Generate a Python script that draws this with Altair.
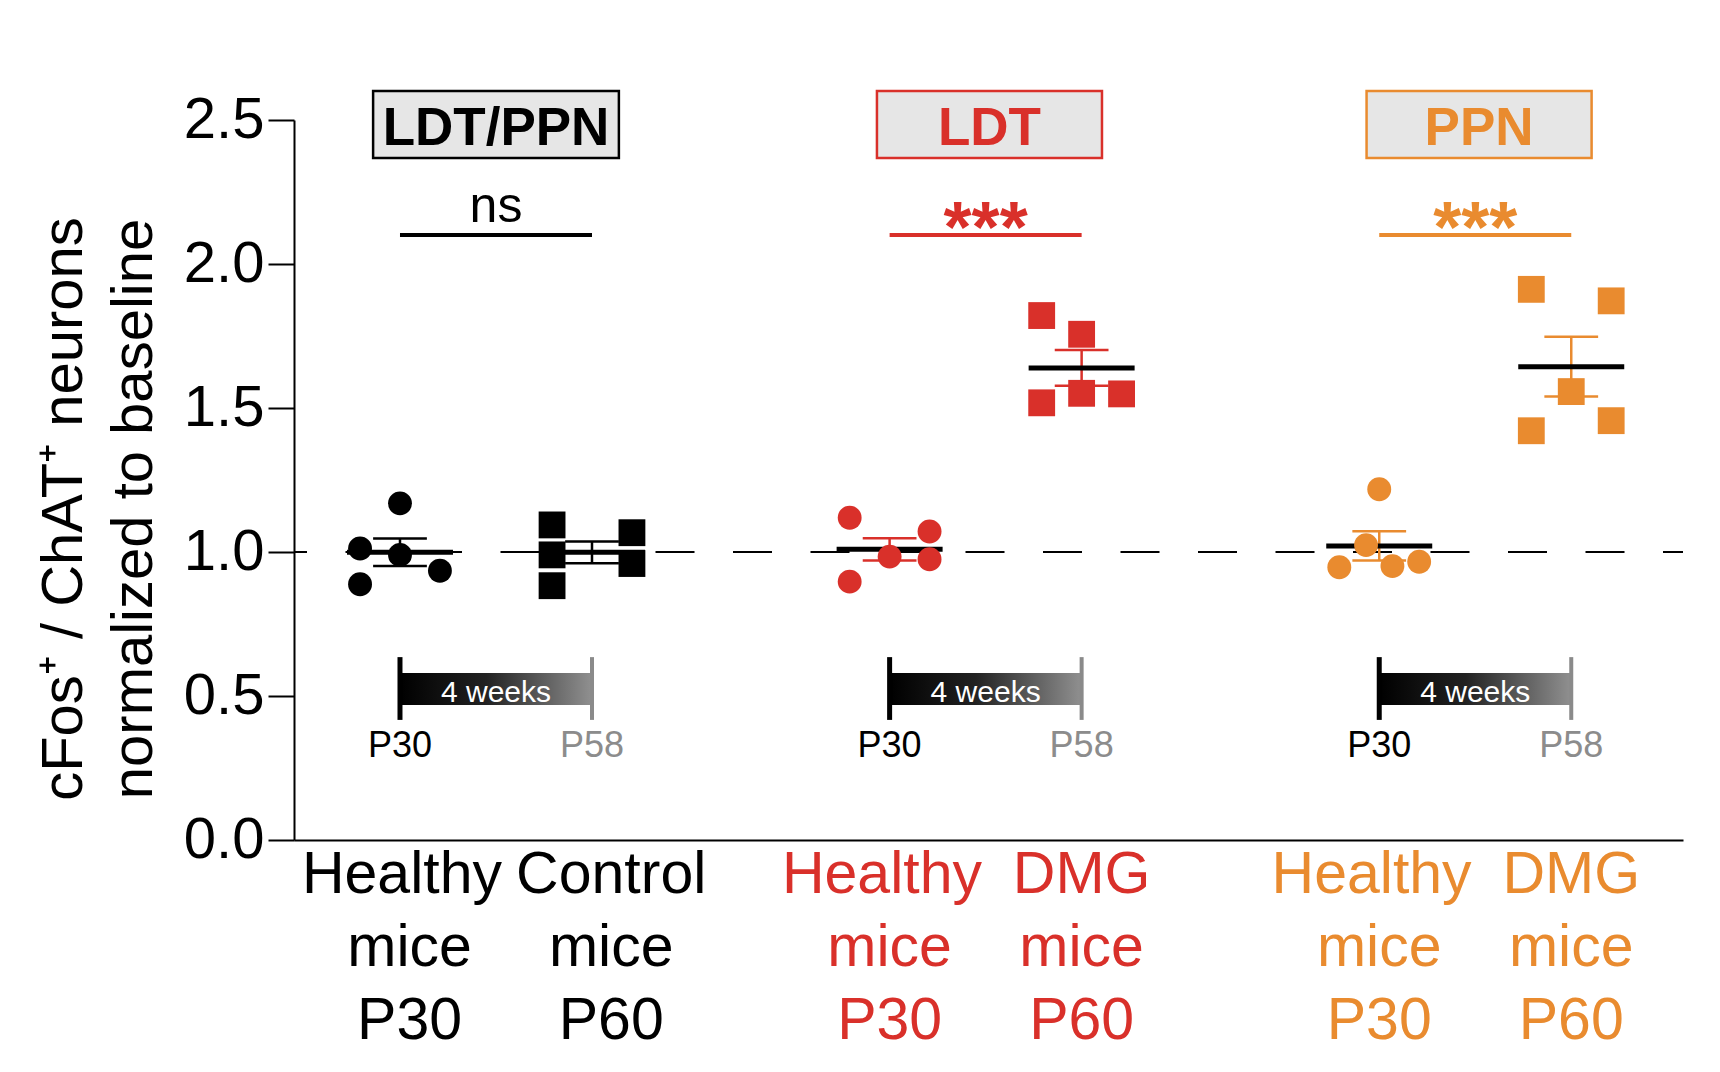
import altair as alt
import pandas as pd

FONT = "Liberation Sans"
BLACK = "#000000"
RED = "#d9302a"
ORANGE = "#e98b2f"
GRAY = "#8c8c8c"

# ---------------- data ----------------
group_keys = ["healthy_all", "control_p60", "healthy_ldt", "dmg_ldt", "healthy_ppn", "dmg_ppn"]
group_pos = [1.0, 2.0, 3.55, 4.55, 6.1, 7.1]
group_shape = ["circle", "square", "circle", "square", "circle", "square"]
group_color = [BLACK, BLACK, RED, RED, ORANGE, ORANGE]
label_top = ["Healthy", "Control", "Healthy", "DMG", "Healthy", "DMG"]
label_mid = ["mice", "mice", "mice", "mice", "mice", "mice"]
label_bot = ["P30", "P60", "P30", "P60", "P30", "P60"]

vals_healthy_all = [1.169, 1.012, 0.990, 0.935, 0.888]
lane_healthy_all = [0, -1, 0, 1, -1]
vals_control_p60 = [1.094, 0.990, 0.883, 1.067, 0.960]
lane_control_p60 = [-1, -1, -1, 1, 1]
vals_healthy_ldt = [1.119, 1.071, 0.984, 0.975, 0.897]
lane_healthy_ldt = [-1, 1, 0, 1, -1]
vals_dmg_ldt = [1.821, 1.756, 1.551, 1.549, 1.518]
lane_dmg_ldt = [-1, 0, 0, 1, -1]
vals_healthy_ppn = [1.218, 1.024, 0.947, 0.951, 0.966]
lane_healthy_ppn = [0, -0.33, -1, 0.33, 1]
vals_dmg_ppn = [1.912, 1.872, 1.557, 1.456, 1.421]
lane_dmg_ppn = [-1, 1, 0, 1, -1]

all_vals = [vals_healthy_all, vals_control_p60, vals_healthy_ldt, vals_dmg_ldt, vals_healthy_ppn, vals_dmg_ppn]
all_lanes = [lane_healthy_all, lane_control_p60, lane_healthy_ldt, lane_dmg_ldt, lane_healthy_ppn, lane_dmg_ppn]

pair_titles = ["LDT/PPN", "LDT", "PPN"]
pair_colors = [BLACK, RED, ORANGE]
pair_sig = ["ns", "***", "***"]
timeline_text = ["4 weeks", "4 weeks", "4 weeks"]
timeline_start = ["P30", "P30", "P30"]
timeline_end = ["P58", "P58", "P58"]
baseline_value = [1.0]

y_title_1 = "cFos\u207a / ChAT\u207a neurons"
y_title_2 = "normalized to baseline"

# ---------------- tables ----------------
rows = []
for k, p, s, c, vs, ls in zip(group_keys, group_pos, group_shape, group_color, all_vals, all_lanes):
    for v, l in zip(vs, ls):
        rows.append({"key": k, "pos": p, "shape": s, "color": c, "value": v, "lane": l})
points_df = pd.DataFrame(rows)

label_rows = []
for k, p, c, a, b, d in zip(group_keys, group_pos, group_color, label_top, label_mid, label_bot):
    for i, t in enumerate([a, b, d]):
        label_rows.append({"key": k, "pos": p, "color": c, "line": i, "text": t})
labels_df = pd.DataFrame(label_rows)

pairs_df = pd.DataFrame({
    "title": pair_titles, "color": pair_colors, "sig": pair_sig,
    "left": group_pos[0::2], "right": group_pos[1::2],
    "tl": timeline_text, "ts": timeline_start, "te": timeline_end,
})
pairs_df["mid"] = (pairs_df["left"] + pairs_df["right"]) / 2

# ---------------- scales / axes ----------------
WIDTH, HEIGHT = 1389, 720
x_scale = alt.Scale(domain=[0.448, 7.682], nice=False, zero=False)
y_scale = alt.Scale(domain=[0, 2.5], nice=False, zero=False)
x_axis = alt.Axis(labels=False, ticks=False, title=None, grid=False,
                  domainColor="black", domainWidth=2)
y_axis = alt.Axis(values=[0, 0.5, 1, 1.5, 2, 2.5], format=".1f", title=None, grid=False,
                  labelFont=FONT, labelFontSize=58, labelColor="black", labelPadding=4,
                  tickSize=26, tickWidth=2, tickColor="black",
                  domainColor="black", domainWidth=2)


def X(f):
    return alt.X(f, type="quantitative", scale=x_scale, axis=x_axis)


def Y(f):
    return alt.Y(f, type="quantitative", scale=y_scale, axis=y_axis)


no_color = dict(scale=None)

# ---------------- layers ----------------
ref = alt.Chart(pd.DataFrame({"ref": baseline_value})).mark_rule(
    color="black", strokeWidth=2, strokeDash=[39, 38.5], strokeDashOffset=26
).encode(y=Y("ref"), x=alt.value(0), x2=alt.value(WIDTH))

pts = alt.Chart(points_df).transform_calculate(x="datum.pos + 0.208 * datum.lane")

circles = pts.transform_filter("datum.shape == 'circle'").mark_point(
    shape="circle", filled=True, size=570, opacity=1, strokeWidth=0
).encode(x=X("x"), y=Y("value"), color=alt.Color("color:N", **no_color))

squares = pts.transform_filter("datum.shape == 'square'").mark_point(
    shape="square", filled=True, size=720, opacity=1, strokeWidth=0
).encode(x=X("x"), y=Y("value"), color=alt.Color("color:N", **no_color))

stats = alt.Chart(points_df).transform_aggregate(
    m="mean(value)", s="stderr(value)", groupby=["key", "pos", "color"]
).transform_calculate(
    lo="datum.m - datum.s", hi="datum.m + datum.s",
    cl="datum.pos - 0.14", cr="datum.pos + 0.14",
    ml="datum.pos - 0.276", mr="datum.pos + 0.276",
)

err_v = stats.mark_rule(strokeWidth=2.5).encode(
    x=X("pos"), y=Y("lo"), y2=alt.Y2("hi"), color=alt.Color("color:N", **no_color))
cap_lo = stats.mark_rule(strokeWidth=2.5).encode(
    x=X("cl"), x2=alt.X2("cr"), y=Y("lo"), color=alt.Color("color:N", **no_color))
cap_hi = stats.mark_rule(strokeWidth=2.5).encode(
    x=X("cl"), x2=alt.X2("cr"), y=Y("hi"), color=alt.Color("color:N", **no_color))
mean_line = stats.mark_rule(strokeWidth=5, color="black").encode(
    x=X("ml"), x2=alt.X2("mr"), y=Y("m"))

pairs = alt.Chart(pairs_df).transform_calculate(
    sig_y="2.101", ns_y="2.146", star_y="2.043",
    box_l="datum.title == 'LDT/PPN' ? datum.mid - 0.64 : datum.mid + 0.02 - 0.586",
    box_r="datum.title == 'LDT/PPN' ? datum.mid + 0.64 : datum.mid + 0.02 + 0.586",
    box_c="datum.title == 'LDT/PPN' ? datum.mid : datum.mid + 0.02",
    box_b="2.368", box_t="2.601", box_txt="2.413",
    bar_b="0.469", bar_t="0.580", tick_b="0.417", tick_t="0.635",
    wk_y="0.479", p_y="0.288",
)

sig_line = pairs.mark_rule(strokeWidth=4).encode(
    x=X("left"), x2=alt.X2("right"), y=Y("sig_y:Q"), color=alt.Color("color:N", **no_color))
ns_text = pairs.transform_filter("datum.sig == 'ns'").mark_text(
    font=FONT, fontSize=50, baseline="alphabetic", align="center"
).encode(x=X("mid"), y=Y("ns_y:Q"), text="sig:N", color=alt.Color("color:N", **no_color))
star_text = pairs.transform_filter("datum.sig != 'ns'").mark_text(
    font=FONT, fontSize=72, fontWeight="bold", baseline="alphabetic", align="center"
).encode(x=X("mid"), y=Y("star_y:Q"), text="sig:N", color=alt.Color("color:N", **no_color))

box = pairs.mark_rect(fill="#e6e6e6", strokeWidth=2.5).encode(
    x=X("box_l:Q"), x2=alt.X2("box_r"), y=Y("box_b:Q"), y2=alt.Y2("box_t"),
    stroke=alt.Stroke("color:N", **no_color))
box_text = pairs.mark_text(
    font=FONT, fontSize=53, fontWeight="bold", baseline="alphabetic", align="center"
).encode(x=X("box_c:Q"), y=Y("box_txt:Q"), text="title:N", color=alt.Color("color:N", **no_color))

grad = alt.LinearGradient(
    gradient="linear", x1=0, x2=1, y1=0, y2=0,
    stops=[alt.GradientStop(color="#000000", offset=0),
           alt.GradientStop(color="#222222", offset=0.45),
           alt.GradientStop(color="#909090", offset=1)])
bar = pairs.mark_rect(fill=grad).encode(
    x=X("left"), x2=alt.X2("right"), y=Y("bar_b:Q"), y2=alt.Y2("bar_t"))
tick_l = pairs.mark_rule(strokeWidth=5, color="black").encode(
    x=X("left"), y=Y("tick_b:Q"), y2=alt.Y2("tick_t"))
tick_r = pairs.mark_rule(strokeWidth=4, color="#8a8a8a").encode(
    x=X("right"), y=Y("tick_b:Q"), y2=alt.Y2("tick_t"))
wk_text = pairs.mark_text(
    font=FONT, fontSize=30, color="white", baseline="alphabetic", align="center"
).encode(x=X("mid"), y=Y("wk_y:Q"), text="tl:N")
p30_text = pairs.mark_text(
    font=FONT, fontSize=36, color="black", baseline="alphabetic", align="center"
).encode(x=X("left"), y=Y("p_y:Q"), text="ts:N")
p58_text = pairs.mark_text(
    font=FONT, fontSize=36, color=GRAY, baseline="alphabetic", align="center"
).encode(x=X("right"), y=Y("p_y:Q"), text="te:N")

cat_labels = alt.Chart(labels_df).transform_calculate(
    lx=("datum.pos"
        " + (datum.key == 'control_p60' ? 0.1 : datum.key == 'healthy_all' ? 0.05 : 0)"
        " + (datum.text == 'Healthy' ? -0.04 : 0)"),
    ly="-0.184 - 0.2535 * datum.line",
).mark_text(
    font=FONT, fontSize=59, baseline="alphabetic", align="center"
).encode(x=X("lx:Q"), y=Y("ly:Q"), text="text:N", color=alt.Color("color:N", **no_color))

yt1 = alt.Chart(pd.DataFrame({"t": [y_title_1]})).mark_text(
    font=FONT, fontSize=58, angle=270, align="center", baseline="alphabetic", color="black"
).encode(text="t:N", x=alt.value(-212), y=alt.value(389))
yt2 = alt.Chart(pd.DataFrame({"t": [y_title_2]})).mark_text(
    font=FONT, fontSize=58, angle=270, align="center", baseline="alphabetic", color="black"
).encode(text="t:N", x=alt.value(-142), y=alt.value(389))

chart = alt.layer(
    ref, bar, tick_l, tick_r, wk_text, p30_text, p58_text,
    err_v, cap_lo, cap_hi, mean_line, circles, squares,
    sig_line, ns_text, star_text, box, box_text, cat_labels, yt1, yt2,
).properties(
    width=WIDTH, height=HEIGHT,
    autosize=alt.AutoSizeParams(type="none"),
    padding={"left": 286, "top": 112, "right": 20, "bottom": 220},
    background="white",
).configure_view(strokeWidth=0)

chart.save("out.html", embed_options={"renderer": "svg", "actions": False})
